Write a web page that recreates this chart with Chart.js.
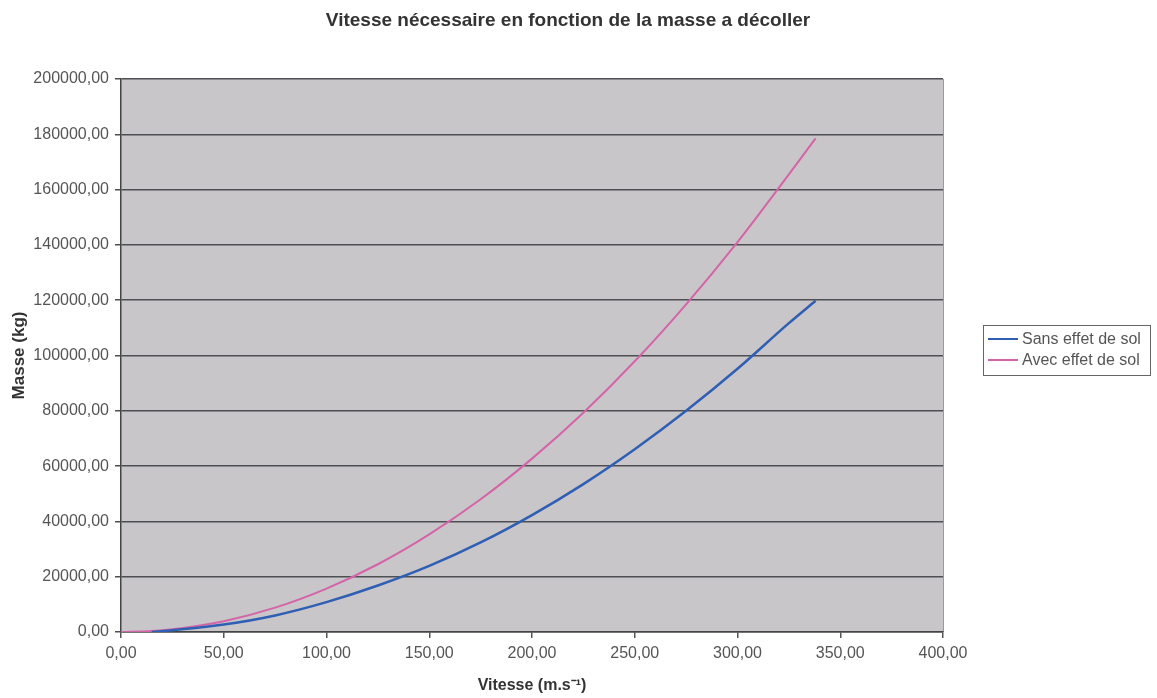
<!DOCTYPE html>
<html lang="fr">
<head>
<meta charset="utf-8">
<script src="https://cdn.jsdelivr.net/npm/chart.js@4/dist/chart.umd.min.js"></script>
<style>
  html, body { margin: 0; padding: 0; background: #fff; }
  #zone { width: 1157px; height: 698px; }
</style>
</head>
<body>
<div id="zone"><canvas id="graphique-masse"></canvas></div>
<script>
/* Données */
const vitesse = [0, 15, 25, 50, 75, 100, 125, 150, 175, 200, 225, 250, 275, 300, 325, 338];
const sansEffetSol = [null, 0, 660, 2700, 6000, 10800, 16800, 23900, 32400, 42300, 53500, 66100, 80000, 95200, 111700, 119800];
const avecEffetSol = [0, 350, 980, 3900, 8800, 15700, 24500, 35300, 48000, 62700, 79300, 97900, 118500, 141000, 165500, 178500];

const titre = 'Vitesse nécessaire en fonction de la masse a décoller';
const titreX = 'Vitesse (m.s⁻¹)';
const titreY = 'Masse (kg)';
const libelles = ['Sans effet de sol', 'Avec effet de sol'];
const couleurs = ['#2f5fb3', '#d464a8'];

const police = "'Liberation Sans', Arial, sans-serif";
const gris = '#555555';

const points = function(serie) {
  return vitesse.map((v, i) => ({x: v, y: serie[i]}));
};

// format à la française : 2 décimales avec une virgule
const virgule = function(valeur) {
  return Number(valeur).toFixed(2).replace('.', ',');
};

/* Fond gris de la zone de tracé */
const fondGris = {
  id: 'fondGris',
  beforeDraw(chart) {
    const {ctx, chartArea: a} = chart;
    ctx.save();
    ctx.fillStyle = '#c9c6ca';
    ctx.fillRect(a.left, a.top, a.right - a.left, a.bottom - a.top);
    ctx.strokeStyle = '#9a9a9a';
    ctx.lineWidth = 1;
    ctx.beginPath();
    ctx.moveTo(a.right + 0.5, a.top);
    ctx.lineTo(a.right + 0.5, a.bottom);
    ctx.stroke();
    ctx.restore();
  }
};

/* Titre centré sur toute la largeur de l'image */
const titreHaut = {
  id: 'titreHaut',
  afterDraw(chart) {
    const ctx = chart.ctx;
    ctx.save();
    ctx.font = 'bold 19px ' + police;
    ctx.fillStyle = '#333';
    ctx.textAlign = 'center';
    ctx.textBaseline = 'middle';
    ctx.fillText(titre, 568, 21);
    ctx.restore();
  }
};

/* Légende encadrée à droite */
const legendeCadre = {
  id: 'legendeCadre',
  afterDraw(chart) {
    const ctx = chart.ctx;
    ctx.save();
    ctx.strokeStyle = '#666';
    ctx.lineWidth = 1;
    ctx.strokeRect(983.5, 325.5, 167, 50);
    ctx.font = '16px ' + police;
    ctx.textBaseline = 'middle';
    chart.data.datasets.forEach((ds, i) => {
      const y = 339 + i * 21;
      ctx.strokeStyle = ds.borderColor;
      ctx.lineWidth = 2;
      ctx.beginPath();
      ctx.moveTo(988, y);
      ctx.lineTo(1018, y);
      ctx.stroke();
      ctx.fillStyle = gris;
      ctx.fillText(ds.label, 1022, y + 1);
    });
    ctx.restore();
  }
};

const data = {
  datasets: [
    {
      label: libelles[0],
      data: points(sansEffetSol),
      borderColor: couleurs[0],
      borderWidth: 2.5,
      showLine: true,
      pointRadius: 0,
      spanGaps: true,
      cubicInterpolationMode: 'monotone'
    },
    {
      label: libelles[1],
      data: points(avecEffetSol),
      borderColor: couleurs[1],
      borderWidth: 2,
      showLine: true,
      pointRadius: 0,
      cubicInterpolationMode: 'monotone'
    }
  ]
};

const options = {
  responsive: false,
  animation: false,
  layout: { padding: { left: 0, right: 214, top: 79, bottom: 0 } },
  plugins: {
    legend: { display: false },
    tooltip: { enabled: false },
    title: { display: false }
  },
  scales: {
    x: {
      type: 'linear',
      min: 0,
      max: 400,
      afterFit(scale) { scale.height = 66; },
      ticks: {
        stepSize: 50,
        color: gris,
        padding: 6,
        maxRotation: 0,
        font: { family: police, size: 16 },
        callback: virgule
      },
      grid: { drawOnChartArea: false, drawTicks: true, tickLength: 6, color: gris, lineWidth: 1.5 },
      border: { color: '#444', width: 1.5 },
      title: {
        display: true,
        text: titreX,
        color: '#333',
        font: { family: police, size: 16, weight: 'bold' },
        padding: { top: 0, bottom: 3 }
      }
    },
    y: {
      min: 0,
      max: 200000,
      afterFit(scale) { scale.width = 121; },
      ticks: {
        stepSize: 20000,
        color: gris,
        padding: 6,
        font: { family: police, size: 16 },
        callback: virgule
      },
      grid: { color: '#4d4f52', lineWidth: 1.5, tickLength: 6 },
      border: { color: '#444', width: 1.5 },
      title: {
        display: true,
        text: titreY,
        color: '#333',
        font: { family: police, size: 17, weight: 'bold' },
        padding: { top: 9, bottom: 0 }
      }
    }
  }
};

const ctx = document.getElementById('graphique-masse');
ctx.width = 1157;
ctx.height = 698;
const graphique = new Chart(ctx, { type: 'scatter', data, options, plugins: [fondGris, titreHaut, legendeCadre] });
</script>
</body>
</html>
